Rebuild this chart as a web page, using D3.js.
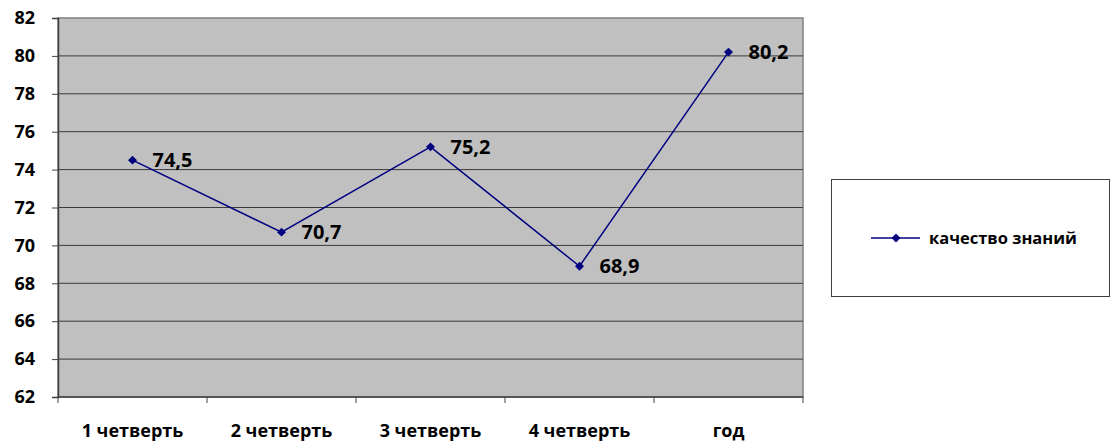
<html>
<head>
<meta charset="utf-8">
<script src="https://d3js.org/d3.v7.min.js"></script>
<style>
  body { margin: 0; background: white; }
  svg text { font-family: "Open Sans", "DejaVu Sans", sans-serif; font-weight: 700; fill: #000; }
</style>
</head>
<body>
<div id="chart"></div>
<script>
const categories = ["1 четверть", "2 четверть", "3 четверть", "4 четверть", "год"];
const values = [74.5, 70.7, 75.2, 68.9, 80.2];
const yTicks = [62, 64, 66, 68, 70, 72, 74, 76, 78, 80, 82];
const seriesName = "качество знаний";

const w = 1111, h = 445;
const plot = { left: 58, top: 18, right: 803, bottom: 397 };

const svg = d3.select("#chart").append("svg")
    .attr("width", w)
    .attr("height", h);

const xScale = d3.scaleBand()
    .domain(categories)
    .range([plot.left, plot.right]);

const yScale = d3.scaleLinear()
    .domain([62, 82])
    .range([plot.bottom, plot.top]);

// plot area
svg.append("rect")
    .attr("x", plot.left)
    .attr("y", plot.top)
    .attr("width", plot.right - plot.left)
    .attr("height", plot.bottom - plot.top)
    .style("fill", "#c0c0c0")
    .style("stroke", "#808080")
    .style("stroke-width", 1.5);

// gridlines
svg.append("g")
    .selectAll("line")
    .data(yTicks.slice(1, -1))
    .enter()
    .append("line")
    .attr("x1", plot.left)
    .attr("x2", plot.right)
    .attr("y1", d => yScale(d))
    .attr("y2", d => yScale(d))
    .style("stroke", "#3a3a3a")
    .style("stroke-width", 1);

// y axis
const yAxis = svg.append("g")
    .attr("transform", "translate(" + plot.left + ",0)")
    .call(d3.axisLeft(yScale).tickValues(yTicks).tickSize(6).tickPadding(17));
yAxis.attr("font-family", null).attr("font-size", null);
yAxis.select(".domain").style("stroke", "#404040").style("stroke-width", 1.5);
yAxis.selectAll(".tick line").style("stroke", "#404040");
yAxis.selectAll("text")
    .style("font-size", "18px")
    .style("font-weight", "700");

// x axis
const xTickPos = categories.map(c => xScale(c)).concat([plot.right]);
const xAxisG = svg.append("g");
xAxisG.append("line")
    .attr("x1", plot.left).attr("x2", plot.right)
    .attr("y1", plot.bottom).attr("y2", plot.bottom)
    .style("stroke", "#404040").style("stroke-width", 1.5);
xAxisG.selectAll(".xt")
    .data(xTickPos)
    .enter()
    .append("line")
    .attr("class", "xt")
    .attr("x1", d => d).attr("x2", d => d)
    .attr("y1", plot.bottom).attr("y2", plot.bottom + 6)
    .style("stroke", "#404040");
xAxisG.selectAll(".xl")
    .data(categories)
    .enter()
    .append("text")
    .attr("class", "xl")
    .attr("x", d => xScale(d) + xScale.bandwidth() / 2)
    .attr("y", 437)
    .attr("text-anchor", "middle")
    .style("font-size", "18px")
    .text(d => d);

// line
const cx = (d, i) => xScale(categories[i]) + xScale.bandwidth() / 2;
const line = d3.line()
    .x((d, i) => cx(d, i))
    .y(d => yScale(d));

svg.append("path")
    .datum(values)
    .attr("d", line)
    .style("fill", "none")
    .style("stroke", "#000080")
    .style("stroke-width", 1.5);

const marker = d3.symbol().type(d3.symbolSquare).size(40);
svg.selectAll(".pt")
    .data(values)
    .enter()
    .append("path")
    .attr("class", "pt")
    .attr("d", marker)
    .attr("transform", (d, i) => "translate(" + cx(d, i) + "," + yScale(d) + ") rotate(45)")
    .style("fill", "#000080");

svg.selectAll(".lbl")
    .data(values)
    .enter()
    .append("text")
    .attr("class", "lbl")
    .attr("x", (d, i) => cx(d, i) + 20)
    .attr("y", d => yScale(d) + 7)
    .style("font-size", "20px")
    .text(d => String(d).replace(".", ","));

// legend
const lg = svg.append("g");
lg.append("rect")
    .attr("x", 831.5).attr("y", 179.5)
    .attr("width", 278).attr("height", 117)
    .style("fill", "white")
    .style("stroke", "#404040")
    .style("stroke-width", 1);
lg.append("line")
    .attr("x1", 871).attr("x2", 920)
    .attr("y1", 238).attr("y2", 238)
    .style("stroke", "#000080").style("stroke-width", 1.5);
lg.append("path")
    .attr("d", marker)
    .attr("transform", "translate(896,238) rotate(45)")
    .style("fill", "#000080");
lg.append("text")
    .attr("x", 929).attr("y", 244)
    .style("font-size", "16.5px")
    .text(seriesName);
</script>
</body>
</html>
